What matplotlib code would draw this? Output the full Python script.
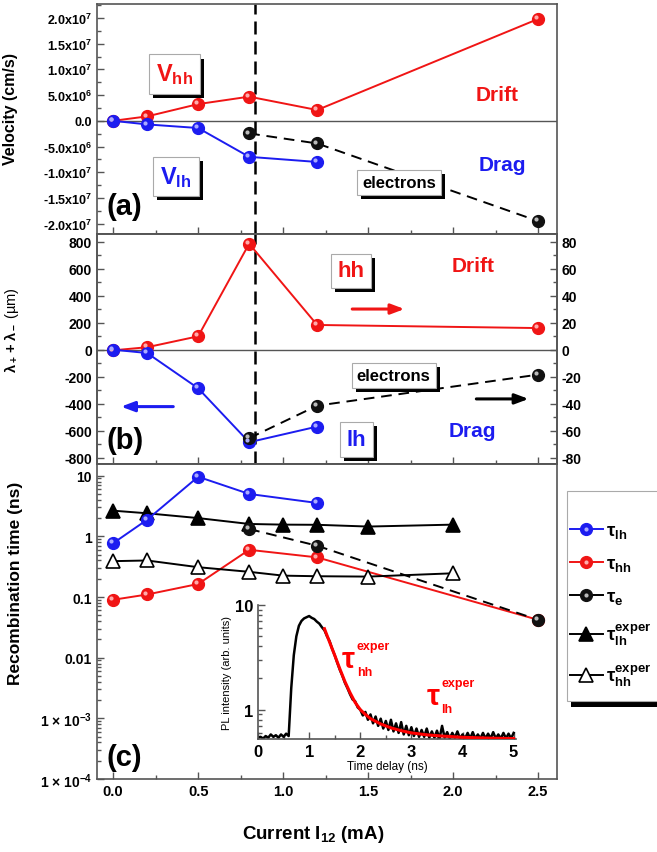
import matplotlib
matplotlib.use("Agg")
import matplotlib.pyplot as plt
import matplotlib.patheffects as pe
from matplotlib.lines import Line2D
from matplotlib.patches import Rectangle
from matplotlib.ticker import FixedLocator, FixedFormatter, MultipleLocator, LogLocator, NullFormatter
from matplotlib.transforms import offset_copy

plt.rcParams['font.family'] = ['Liberation Sans', 'DejaVu Sans']
plt.rcParams['font.weight'] = 'bold'
plt.rcParams['axes.labelweight'] = 'bold'
plt.rcParams['mathtext.fontset'] = 'custom'
plt.rcParams['mathtext.rm'] = 'Liberation Sans'
plt.rcParams['mathtext.bf'] = 'Liberation Sans:bold'
plt.rcParams['mathtext.it'] = 'Liberation Sans:italic'
plt.rcParams['mathtext.sf'] = 'Liberation Sans'

# currents (mA)
current = [0.0, 0.2, 0.5, 0.8, 1.2, 2.5]
current_lh = [0.0, 0.2, 0.5, 0.8, 1.2]
current_e = [0.8, 1.2, 2.5]
current_exp = [0.0, 0.2, 0.5, 0.8, 1.0, 1.2, 1.5, 2.0]
i_crit = 0.835

# (a) velocities (cm/s)
v_hh = [0.0, 0.86e6, 3.25e6, 4.7e6, 2.1e6, 1.98e7]
v_lh = [0.0, -0.7e6, -1.4e6, -7.0e6, -8.0e6]
v_e = [-2.45e6, -4.4e6, -1.95e7]

# (b) lambda+ + lambda- (um)
lam_hh = [-5, 18, 99, 785, 183, 160]
lam_lh = [0, -25, -286, -686, -570]
lam_e = [-656, -415, -185]

# (c) recombination times (ns)
tau_lh = [0.77, 1.88, 9.6, 5.0, 3.55]
tau_hh = [0.09, 0.11, 0.164, 0.60, 0.45, 0.042]
tau_e = [1.32, 0.70, 0.042]
tau_lh_exp = [2.65, 2.4, 2.0, 1.6, 1.56, 1.55, 1.45, 1.56]
tau_hh_exp = [0.39, 0.40, 0.31, 0.26, 0.225, 0.22, 0.217, 0.246]

# inset: PL trace
t_pl = [0.00, 0.05, 0.10, 0.15, 0.20, 0.25, 0.30, 0.35, 0.40, 0.45,
        0.50, 0.55, 0.60, 0.65, 0.70, 0.75, 0.80, 0.85, 0.90, 0.95,
        1.00, 1.05, 1.10, 1.15, 1.20, 1.25, 1.30, 1.35, 1.40, 1.45,
        1.50, 1.55, 1.60, 1.65, 1.70, 1.75, 1.80, 1.85, 1.90, 1.95,
        2.00, 2.05, 2.10, 2.15, 2.20, 2.25, 2.30, 2.35, 2.40, 2.45,
        2.50, 2.55, 2.60, 2.65, 2.70, 2.75, 2.80, 2.85, 2.90, 2.95,
        3.00, 3.05, 3.10, 3.15, 3.20, 3.25, 3.30, 3.35, 3.40, 3.45,
        3.50, 3.55, 3.60, 3.65, 3.70, 3.75, 3.80, 3.85, 3.90, 3.95,
        4.00, 4.05, 4.10, 4.15, 4.20, 4.25, 4.30, 4.35, 4.40, 4.45,
        4.50, 4.55, 4.60, 4.65, 4.70, 4.75, 4.80, 4.85, 4.90, 4.95, 5.00]
pl = [0.54, 0.55, 0.53, 0.56, 0.54, 0.58, 0.55, 0.57, 0.54, 0.58,
      0.55, 0.59, 0.56, 1.6, 3.3, 5.0, 6.3, 7.0, 7.4, 7.6,
      7.8, 7.5, 7.3, 6.9, 6.6, 6.1, 5.7, 5.0, 4.5, 3.8,
      3.3, 2.8, 2.4, 2.1, 1.8, 1.6, 1.4, 1.25, 1.2, 1.05,
      1.0, 0.88, 0.95, 0.80, 0.90, 0.74, 0.86, 0.70, 0.82, 0.66,
      0.78, 0.64, 0.80, 0.62, 0.74, 0.60, 0.76, 0.58, 0.70, 0.57,
      0.68, 0.56, 0.66, 0.55, 0.64, 0.55, 0.66, 0.54, 0.62, 0.54,
      0.63, 0.53, 0.70, 0.54, 0.61, 0.53, 0.60, 0.54, 0.62, 0.53,
      0.58, 0.53, 0.60, 0.53, 0.61, 0.53, 0.58, 0.53, 0.60, 0.53,
      0.59, 0.53, 0.61, 0.53, 0.58, 0.53, 0.60, 0.53, 0.59, 0.53, 0.60]
t_fit = [1.3, 1.4, 1.5, 1.6, 1.7, 1.8, 1.9, 2.0, 2.1, 2.2, 2.4, 2.6, 2.8, 3.0, 3.3, 3.6, 4.0, 4.5, 5.0]
pl_fit = [5.9, 4.4, 3.3, 2.45, 1.85, 1.45, 1.17, 1.0, 0.9, 0.82, 0.73, 0.67, 0.63, 0.60, 0.575, 0.56, 0.545, 0.535, 0.53]

# tick labels
x_ticks = [0.0, 0.5, 1.0, 1.5, 2.0, 2.5]
x_labels = ['0.0', '0.5', '1.0', '1.5', '2.0', '2.5']
v_ticks = [2.0e7, 1.5e7, 1.0e7, 5.0e6, 0.0, -5.0e6, -1.0e7, -1.5e7, -2.0e7]
v_labels = [r'2.0x10$^{\mathbf{7}}$', r'1.5x10$^{\mathbf{7}}$', r'1.0x10$^{\mathbf{7}}$',
            r'5.0x10$^{\mathbf{6}}$', '0.0', r'-5.0x10$^{\mathbf{6}}$', r'-1.0x10$^{\mathbf{7}}$',
            r'-1.5x10$^{\mathbf{7}}$', r'-2.0x10$^{\mathbf{7}}$']
lam_ticks = [800, 600, 400, 200, 0, -200, -400, -600, -800]
lam_labels = ['800', '600', '400', '200', '0', '-200', '-400', '-600', '-800']
lam_r_ticks = [80, 60, 40, 20, 0, -20, -40, -60, -80]
lam_r_labels = ['80', '60', '40', '20', '0', '-20', '-40', '-60', '-80']
tau_ticks = [1e-4, 1e-3, 1e-2, 1e-1, 1, 10]
tau_labels = [r'1 $\mathbf{\times}$ 10$^{\mathbf{-4}}$', r'1 $\mathbf{\times}$ 10$^{\mathbf{-3}}$',
              '0.01', '0.1', '1', '10']
legend_labels = [r'$\mathrm{\tau}_{\mathbf{lh}}$', r'$\mathrm{\tau}_{\mathbf{hh}}$', r'$\mathrm{\tau}_{\mathbf{e}}$',
                 r'$\mathrm{\tau}_{\mathbf{lh}}^{\mathbf{exper}}$', r'$\mathrm{\tau}_{\mathbf{hh}}^{\mathbf{exper}}$']

RED, BLUE, BLACK = '#f01515', '#1c1cf0', '#111111'
RED_HI, BLUE_HI, BLACK_HI = '#ffaaaa', '#aaaaff', '#bbbbbb'
SPINE = '#555555'

fig = plt.figure(figsize=(6.57, 8.53), dpi=100)
ax_a = fig.add_axes([0.1476, 0.7245, 0.700, 0.2696])
ax_b = fig.add_axes([0.1476, 0.4549, 0.700, 0.2696])
ax_c = fig.add_axes([0.1476, 0.0856, 0.700, 0.3693])
ax_in = fig.add_axes([0.3927, 0.1325, 0.393, 0.1574])
ax_in.patch.set_alpha(0)


# ball markers: solid disc with a light spot up-left
def balls(ax, x, y, color, light, lc=None, dashed=False, z=3):
    lc = lc or color
    kw = dict(dashes=(5.5, 3.5)) if dashed else {}
    base, = ax.plot(x, y, color=lc, lw=1.4, marker='o', ms=8.5, mfc=color, mec=color, zorder=z, **kw)
    shine = offset_copy(ax.transData, fig=ax.figure, x=-1.3, y=1.3, units='points')
    ax.plot(x, y, ls='none', marker='o', ms=3, mfc=light, mec='none', transform=shine, zorder=z + 0.1)


def ball_handle(color, light, lc):
    base = Line2D([], [], color=lc, lw=1.4, marker='o', ms=8.5, mfc=color, mec=color)
    hi = Line2D([], [], ls='none', marker='o', ms=3, mfc=light, mec='none')
    return (base, hi)


def shadow_box(ax, x, y, s, color, size):
    t = ax.text(x, y, s, color=color, fontsize=size, fontweight='bold', ha='center', va='center', zorder=8,
                bbox=dict(boxstyle='square,pad=0.3', fc='white', ec='#aaaaaa', lw=0.8))
    t.get_bbox_patch().set_path_effects([pe.withSimplePatchShadow(offset=(3, -3), shadow_rgbFace='k', alpha=1)])
    return t


def style(ax):
    for s in ax.spines.values():
        s.set_color(SPINE)
        s.set_linewidth(1.2)
    ax.tick_params(which='both', direction='in', color=SPINE, width=1)
    ax.tick_params(which='major', length=5)
    ax.tick_params(which='minor', length=3)


for ax in (ax_a, ax_b, ax_c):
    style(ax)
    ax.set_xlim(-0.095, 2.61)
    ax.xaxis.set_major_locator(FixedLocator(x_ticks))
    ax.xaxis.set_minor_locator(MultipleLocator(0.25))
    ax.tick_params(axis='x', labelsize=10.5)

ax_a.tick_params(axis='x', labelbottom=False)
ax_b.tick_params(axis='x', labelbottom=False)
ax_c.xaxis.set_major_formatter(FixedFormatter(x_labels))

# ---- (a) velocity
ax_a.set_ylim(-2.2e7, 2.27e7)
ax_a.yaxis.set_major_locator(FixedLocator(v_ticks))
ax_a.yaxis.set_major_formatter(FixedFormatter(v_labels))
ax_a.yaxis.set_minor_locator(MultipleLocator(2.5e6))
ax_a.tick_params(axis='y', labelsize=9)
ax_a.axhline(0, color=SPINE, lw=1, zorder=1)
ax_a.axvline(i_crit, color='k', lw=1.8, dashes=(5.2, 2.8), zorder=2)
balls(ax_a, current, v_hh, RED, RED_HI)
balls(ax_a, current_lh, v_lh, BLUE, BLUE_HI)
balls(ax_a, current_e, v_e, BLACK, BLACK_HI, lc='k', dashed=True)
ax_a.set_ylabel('Velocity (cm/s)', fontsize=11.5)
ax_a.yaxis.set_label_coords(-0.172, 0.55)
shadow_box(ax_a, 0.36, 9.1e6, r'$\mathbf{V}_{\mathbf{hh}}$', RED, 17)
shadow_box(ax_a, 0.37, -1.08e7, r'$\mathbf{V}_{\mathbf{lh}}$', BLUE, 17)
shadow_box(ax_a, 1.68, -1.19e7, 'electrons', 'k', 12)
ax_a.text(2.26, 5.2e6, 'Drift', color=RED, fontsize=15, ha='center', va='center')
ax_a.text(2.29, -8.4e6, 'Drag', color=BLUE, fontsize=15, ha='center', va='center')
ax_a.text(-0.04, -1.65e7, '(a)', fontsize=21, ha='left', va='center')

# ---- (b) lambda
ax_b.set_ylim(-847, 857)
ax_b.yaxis.set_major_locator(FixedLocator(lam_ticks))
ax_b.yaxis.set_major_formatter(FixedFormatter(lam_labels))
ax_b.yaxis.set_minor_locator(MultipleLocator(100))
ax_b.tick_params(axis='y', labelsize=10)
ax_b.axhline(0, color=SPINE, lw=1, zorder=1)
ax_b.axvline(i_crit, color='k', lw=1.8, dashes=(5.2, 2.8), zorder=2)
balls(ax_b, current, lam_hh, RED, RED_HI)
balls(ax_b, current_lh, lam_lh, BLUE, BLUE_HI)
balls(ax_b, current_e, lam_e, BLACK, BLACK_HI, lc='k', dashed=True)
ax_b.set_ylabel(r'$\mathrm{\lambda_+ + \lambda_-}$ (µm)', fontsize=10.5, fontweight='normal')
ax_b.yaxis.set_label_coords(-0.165, 0.587)
ax_b2 = ax_b.twinx()
style(ax_b2)
ax_b2.set_ylim(-84.7, 85.7)
ax_b2.yaxis.set_major_locator(FixedLocator(lam_r_ticks))
ax_b2.yaxis.set_major_formatter(FixedFormatter(lam_r_labels))
ax_b2.yaxis.set_minor_locator(MultipleLocator(10))
ax_b2.tick_params(axis='y', labelsize=10)
shadow_box(ax_b, 1.40, 583, 'hh', RED, 16)
shadow_box(ax_b, 1.43, -665, 'lh', BLUE, 16)
shadow_box(ax_b, 1.65, -191, 'electrons', 'k', 12)
ax_b.text(2.115, 622, 'Drift', color=RED, fontsize=15, ha='center', va='center')
ax_b.text(2.115, -600, 'Drag', color=BLUE, fontsize=15, ha='center', va='center')
ax_b.text(-0.04, -673, '(b)', fontsize=21, ha='left', va='center')
arrow = dict(arrowstyle='-|>,head_length=0.8,head_width=0.3', lw=2.2)
ax_b.annotate('', xy=(0.03, -422), xytext=(0.37, -422), arrowprops=dict(color=BLUE, **arrow))
ax_b.annotate('', xy=(1.73, 301), xytext=(1.39, 301), arrowprops=dict(color=RED, **arrow))
ax_b.annotate('', xy=(2.46, -365), xytext=(2.12, -365), arrowprops=dict(color='k', **arrow))

# ---- (c) recombination times
ax_c.set_yscale('log')
ax_c.set_ylim(1e-4, 15.6)
ax_c.yaxis.set_major_locator(FixedLocator(tau_ticks))
ax_c.yaxis.set_major_formatter(FixedFormatter(tau_labels))
ax_c.yaxis.set_minor_locator(LogLocator(base=10, subs=range(2, 10), numticks=20))
ax_c.yaxis.set_minor_formatter(NullFormatter())
ax_c.tick_params(axis='y', labelsize=10)
balls(ax_c, current, tau_hh, RED, RED_HI, z=3)
balls(ax_c, current_e, tau_e, BLACK, BLACK_HI, lc='k', dashed=True, z=4)
balls(ax_c, current_lh, tau_lh, BLUE, BLUE_HI, z=5)
tri = dict(color='k', lw=1.4, marker='^', ms=10, mec='k', mew=1.2)
ax_c.plot(current_exp, tau_lh_exp, mfc='k', zorder=3, **tri)
ax_c.plot(current_exp, tau_hh_exp, mfc='white', zorder=3, **tri)
ax_c.set_ylabel('Recombination time (ns)', fontsize=12.5)
ax_c.yaxis.set_label_coords(-0.16, 0.625)
ax_c.set_xlabel(r'Current I$_{\mathbf{12}}$ (mA)', fontsize=13.5)
ax_c.xaxis.set_label_coords(0.47, -0.14)
ax_c.text(-0.04, 2.3e-4, '(c)', fontsize=21, ha='left', va='center')

# legend: framed box running off the right edge, with a black shadow
frame = Rectangle((567 / 657, 1 - 702 / 853), 140 / 657, 210 / 853, transform=fig.transFigure,
                  fc='white', ec='#aaaaaa', lw=0.8, zorder=1)
frame.set_path_effects([pe.withSimplePatchShadow(offset=(3, -4), shadow_rgbFace='k', alpha=1)])
fig.add_artist(frame)
handles = [ball_handle(BLUE, BLUE_HI, BLUE), ball_handle(RED, RED_HI, RED), ball_handle(BLACK, BLACK_HI, 'k'),
           Line2D([], [], mfc='k', **tri), Line2D([], [], mfc='white', **tri)]
fig.legend(handles, legend_labels, loc='upper left', bbox_to_anchor=(570 / 657, 1 - 523 / 853),
           borderaxespad=0, borderpad=0, frameon=False, fontsize=13.5, numpoints=1,
           handlelength=1.75, handletextpad=0.15, labelspacing=0.8)

# ---- inset PL trace
style(ax_in)
ax_in.spines['top'].set_visible(False)
ax_in.spines['right'].set_visible(False)
ax_in.set_yscale('log')
ax_in.set_xlim(0, 5.05)
ax_in.set_ylim(0.525, 10)
ax_in.xaxis.set_major_locator(MultipleLocator(1))
ax_in.xaxis.set_minor_locator(MultipleLocator(0.5))
ax_in.yaxis.set_major_locator(FixedLocator([1, 10]))
ax_in.yaxis.set_major_formatter(FixedFormatter(['1', '10']))
ax_in.yaxis.set_minor_locator(LogLocator(base=10, subs=range(2, 10), numticks=20))
ax_in.yaxis.set_minor_formatter(NullFormatter())
ax_in.tick_params(labelsize=12)
ax_in.plot(t_pl, pl, color='k', lw=1.8, zorder=2)
ax_in.plot(t_fit, pl_fit, color='red', lw=2.2, zorder=3)
ax_in.set_xlabel('Time delay (ns)', fontsize=8.5, fontweight='normal', labelpad=1)
ax_in.set_ylabel('PL intensity (arb. units)', fontsize=8, fontweight='normal', labelpad=2)


def tau_label(ax, x, y, sub):
    ax.text(x, y, 'τ', color='red', fontsize=21, ha='center', va='center')
    ax.annotate('exper', (x, y), xytext=(6, 9.5), textcoords='offset points', color='red',
                fontsize=9, ha='left', va='center')
    ax.annotate(sub, (x, y), xytext=(6, -9.5), textcoords='offset points', color='red',
                fontsize=9, ha='left', va='center')


tau_label(ax_in, 1.77, 3.04, 'hh')
tau_label(ax_in, 3.42, 1.34, 'lh')

fig.savefig('out.png', dpi=100)
